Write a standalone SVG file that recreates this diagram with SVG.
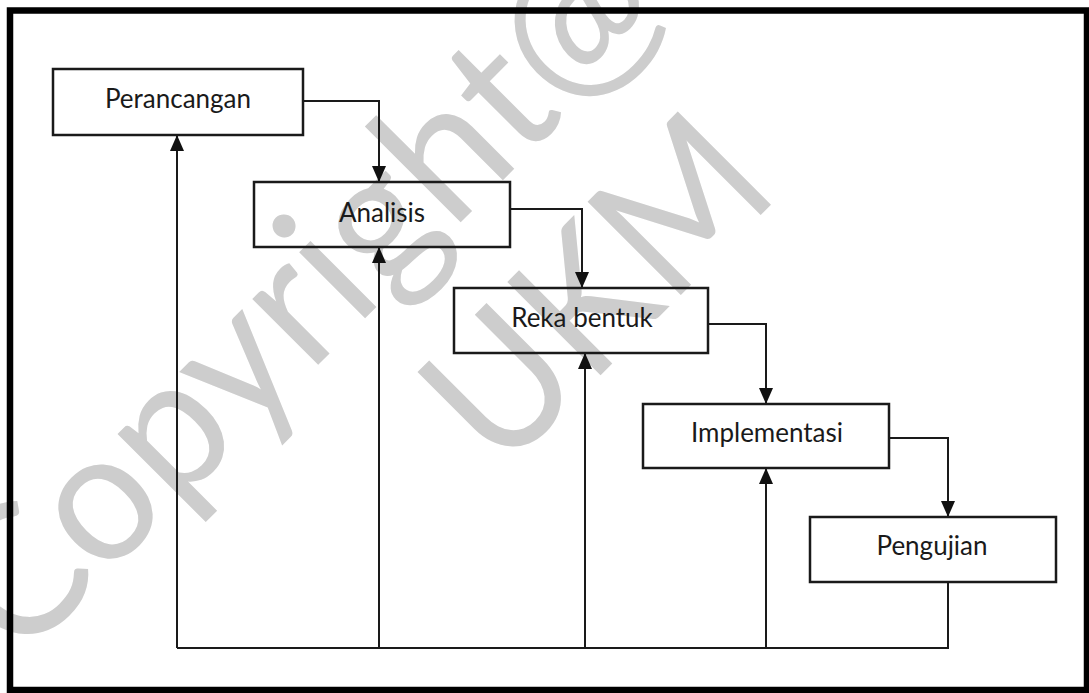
<svg xmlns="http://www.w3.org/2000/svg" width="1089" height="693" viewBox="0 0 1089 693">
  <style>
    .box { fill: none; stroke: #1a1a1a; stroke-width: 2.5; }
    .lbl { font-family: Lato, "Open Sans", sans-serif; font-size: 26px; fill: #1a1a1a; text-anchor: middle; }
    .con { fill: none; stroke: #1a1a1a; stroke-width: 2; }
    .wm { font-family: Lato, "Open Sans", sans-serif; font-size: 184px; fill: #cdcdcd; }
  </style>
  <defs>
    <marker id="ah" markerUnits="userSpaceOnUse" markerWidth="16" markerHeight="14" refX="16" refY="7" orient="auto">
      <path d="M0,0 L16,7 L0,14 z" fill="#111"/>
    </marker>
  </defs>
  <rect x="0" y="0" width="1089" height="693" fill="#ffffff"/>
  <g id="watermark" transform="rotate(-45)">
    <text class="wm" x="-456" y="483" textLength="925" lengthAdjust="spacingAndGlyphs">Copyright@</text>
    <text class="wm" x="18" y="690" textLength="398" lengthAdjust="spacingAndGlyphs">UKM</text>
  </g>
  <rect id="frame" x="10" y="10.5" width="1077" height="679.5" fill="none" stroke="#000" stroke-width="6.5"/>
  <g id="connectors">
    <path class="con" d="M303,101 H379 V182" marker-end="url(#ah)"/>
    <path class="con" d="M510,209 H582 V288" marker-end="url(#ah)"/>
    <path class="con" d="M708,324 H766 V404" marker-end="url(#ah)"/>
    <path class="con" d="M889,438 H948 V517" marker-end="url(#ah)"/>
    <path class="con" d="M948,582 V648 H177"/>
    <path class="con" d="M177,648 V135" marker-end="url(#ah)"/>
    <path class="con" d="M379,648 V247" marker-end="url(#ah)"/>
    <path class="con" d="M585,648 V353" marker-end="url(#ah)"/>
    <path class="con" d="M766,648 V468" marker-end="url(#ah)"/>
  </g>
  <g id="perancangan">
    <rect class="box" x="53" y="69" width="250" height="66"/>
    <text class="lbl" x="178" y="108">Perancangan</text>
  </g>
  <g id="analisis">
    <rect class="box" x="254" y="182" width="256" height="65"/>
    <text class="lbl" x="382" y="222">Analisis</text>
  </g>
  <g id="reka-bentuk">
    <rect class="box" x="454" y="288" width="254" height="65"/>
    <text class="lbl" x="582" y="327">Reka bentuk</text>
  </g>
  <g id="implementasi">
    <rect class="box" x="643" y="404" width="246" height="64"/>
    <text class="lbl" x="767" y="442">Implementasi</text>
  </g>
  <g id="pengujian">
    <rect class="box" x="810" y="517" width="246" height="65"/>
    <text class="lbl" x="932" y="555">Pengujian</text>
  </g>
</svg>
